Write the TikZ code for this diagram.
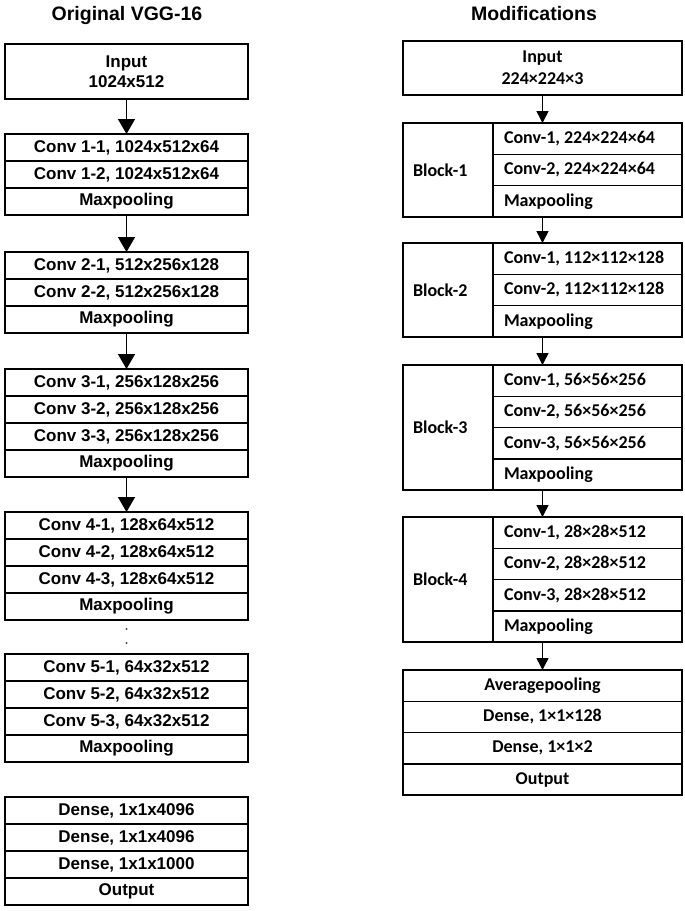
\documentclass[tikz,border=0pt]{standalone}
\usepackage{fontspec}
\setmainfont{Liberation Sans}
\newfontfamily\calfont{Carlito}
\usetikzlibrary{arrows.meta,fit}
\begin{document}
\begin{tikzpicture}[x=1pt,y=-1pt,
  box/.style={draw=black,line width=1.6pt,outer sep=0pt,inner sep=0pt},
  ltext/.style={font=\bfseries\fontsize{17}{20}\selectfont},
  rtext/.style={font=\calfont\bfseries\fontsize{18}{22}\selectfont},
  lrow/.style={box,ltext,anchor=north,minimum width=243pt,minimum height=27pt},
  rrow/.style={box,rtext,anchor=north west,text width=167pt,inner xsep=11pt,align=flush left,minimum height=31.3pt},
  rlab/.style={box,rtext,anchor=north west,text width=70pt,inner xsep=10pt,align=flush left},
  frow/.style={box,rtext,anchor=north west,minimum width=279pt,minimum height=31.3pt},
  ttl/.style={font=\bfseries\fontsize{19.5}{22}\selectfont},
  larrow/.style={line width=1.5pt,-{Triangle[width=17pt,length=15pt]}},
  rarrow/.style={line width=1.5pt,-{Triangle[width=12pt,length=12pt]}}
]
\fill[white] (0,0) rectangle (685,911);
\useasboundingbox (0,0) rectangle (685,911);

% ---------------- Left column ----------------
\node[ttl] (t1) at (127,15) {Original VGG-16};
\node[box,ltext,anchor=north,minimum width=243pt,minimum height=55pt,align=center,
      font=\bfseries\fontsize{17}{20}\selectfont] (in1) at (126.5,44) {Input\\1024x512};

\node[lrow] (c11) at (126.5,134) {Conv 1-1, 1024x512x64};
\node[lrow] (c12) at (c11.south) {Conv 1-2, 1024x512x64};
\node[lrow] (mp1) at (c12.south) {Maxpooling};

\node[lrow] (c21) at (126.5,252) {Conv 2-1, 512x256x128};
\node[lrow] (c22) at (c21.south) {Conv 2-2, 512x256x128};
\node[lrow] (mp2) at (c22.south) {Maxpooling};

\node[lrow] (c31) at (126.5,369) {Conv 3-1, 256x128x256};
\node[lrow] (c32) at (c31.south) {Conv 3-2, 256x128x256};
\node[lrow] (c33) at (c32.south) {Conv 3-3, 256x128x256};
\node[lrow] (mp3) at (c33.south) {Maxpooling};

\node[lrow] (c41) at (126.5,512) {Conv 4-1, 128x64x512};
\node[lrow] (c42) at (c41.south) {Conv 4-2, 128x64x512};
\node[lrow] (c43) at (c42.south) {Conv 4-3, 128x64x512};
\node[lrow] (mp4) at (c43.south) {Maxpooling};

\node[lrow] (c51) at (126.5,654) {Conv 5-1, 64x32x512};
\node[lrow] (c52) at (c51.south) {Conv 5-2, 64x32x512};
\node[lrow] (c53) at (c52.south) {Conv 5-3, 64x32x512};
\node[lrow] (mp5) at (c53.south) {Maxpooling};

\node[lrow] (d1) at (126.5,797) {Dense, 1x1x4096};
\node[lrow] (d2) at (d1.south) {Dense, 1x1x4096};
\node[lrow] (d3) at (d2.south) {Dense, 1x1x1000};
\node[lrow] (out1) at (d3.south) {Output};

\draw[larrow] (in1.south) -- (c11.north);
\draw[larrow] (mp1.south) -- (c21.north);
\draw[larrow] (mp2.south) -- (c31.north);
\draw[larrow] (mp3.south) -- (c41.north);
\draw[draw=black!70,line width=2.2pt,line cap=round,dash pattern=on 0pt off 14pt,dash phase=5pt] (mp4.south) -- (c51.north);

% ---------------- Right column ----------------
\node[ttl] (t2) at (534,14) {Modifications};
\node[box,rtext,anchor=north,minimum width=279pt,minimum height=54pt,align=center] (in2) at (542.5,41) {Input\\224×224×3};

% Block-1
\node[rlab,minimum height=93.9pt] (l1) at (403,123) {Block-1};
\node[rrow] (r11) at (l1.north east) {Conv-1, 224×224×64};
\node[rrow] (r12) at (r11.south west) {Conv-2, 224×224×64};
\node[rrow] (r13) at (r12.south west) {Maxpooling};
\node[fit=(l1)(r13),inner sep=0pt,outer sep=0pt] (B1) {};

% Block-2
\node[rlab,minimum height=93.9pt] (l2) at (403,243) {Block-2};
\node[rrow] (r21) at (l2.north east) {Conv-1, 112×112×128};
\node[rrow] (r22) at (r21.south west) {Conv-2, 112×112×128};
\node[rrow] (r23) at (r22.south west) {Maxpooling};
\node[fit=(l2)(r23),inner sep=0pt,outer sep=0pt] (B2) {};

% Block-3
\node[rlab,minimum height=125.2pt] (l3) at (403,365) {Block-3};
\node[rrow] (r31) at (l3.north east) {Conv-1, 56×56×256};
\node[rrow] (r32) at (r31.south west) {Conv-2, 56×56×256};
\node[rrow] (r33) at (r32.south west) {Conv-3, 56×56×256};
\node[rrow] (r34) at (r33.south west) {Maxpooling};
\node[fit=(l3)(r34),inner sep=0pt,outer sep=0pt] (B3) {};

% Block-4
\node[rlab,minimum height=125.2pt] (l4) at (403,517) {Block-4};
\node[rrow] (r41) at (l4.north east) {Conv-1, 28×28×512};
\node[rrow] (r42) at (r41.south west) {Conv-2, 28×28×512};
\node[rrow] (r43) at (r42.south west) {Conv-3, 28×28×512};
\node[rrow] (r44) at (r43.south west) {Maxpooling};
\node[fit=(l4)(r44),inner sep=0pt,outer sep=0pt] (B4) {};

% Final block
\node[frow] (f1) at (403,670) {Averagepooling};
\node[frow] (f2) at (f1.south west) {Dense, 1×1×128};
\node[frow] (f3) at (f2.south west) {Dense, 1×1×2};
\node[frow] (f4) at (f3.south west) {Output};

\draw[rarrow] (in2.south) -- (B1.north);
\draw[rarrow] (B1.south) -- (B2.north);
\draw[rarrow] (B2.south) -- (B3.north);
\draw[rarrow] (B3.south) -- (B4.north);
\draw[rarrow] (B4.south) -- (f1.north);
\end{tikzpicture}
\end{document}
